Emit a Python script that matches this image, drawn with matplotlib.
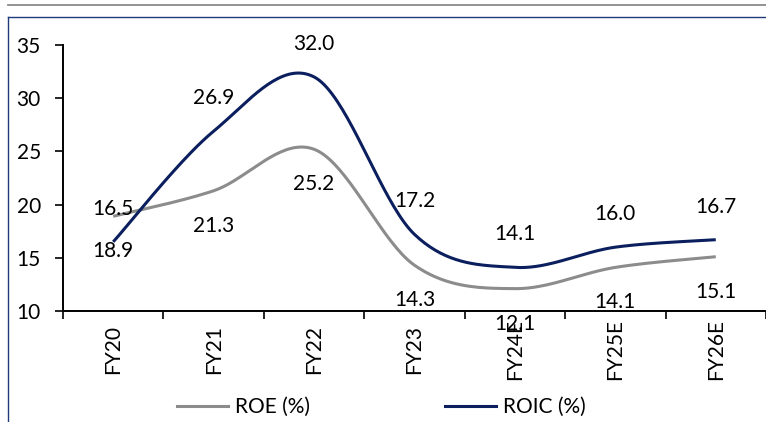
import numpy as np
import matplotlib.pyplot as plt
from matplotlib.lines import Line2D

plt.rcParams['font.family'] = ['Lato', 'DejaVu Sans']

categories = ["FY20", "FY21", "FY22", "FY23", "FY24E", "FY25E", "FY26E"]
roe = [18.9, 21.3, 25.2, 14.3, 12.1, 14.1, 15.1]
roic = [16.5, 26.9, 32.0, 17.2, 14.1, 16.0, 16.7]

ROE_COLOR = "#8c8c8c"
ROIC_COLOR = "#0b1f5e"
FS = 15


def smooth(xs, ys, n=40):
    """Cubic Bezier smoothing through every point (spreadsheet-style smoothed line)."""
    xs = np.asarray(xs, float)
    ys = np.asarray(ys, float)
    px = np.concatenate([[xs[0]], xs, [xs[-1]]])
    py = np.concatenate([[ys[0]], ys, [ys[-1]]])
    out_x, out_y = [], []
    t = np.linspace(0, 1, n)
    for i in range(1, len(px) - 2):
        p0 = np.array([px[i], py[i]])
        p3 = np.array([px[i + 1], py[i + 1]])
        c1 = p0 + (np.array([px[i + 1], py[i + 1]]) - np.array([px[i - 1], py[i - 1]])) / 6
        c2 = p3 - (np.array([px[i + 2], py[i + 2]]) - np.array([px[i], py[i]])) / 6
        b = ((1 - t) ** 3)[:, None] * p0 + (3 * (1 - t) ** 2 * t)[:, None] * c1 \
            + (3 * (1 - t) * t ** 2)[:, None] * c2 + (t ** 3)[:, None] * p3
        out_x.extend(b[:, 0])
        out_y.extend(b[:, 1])
    return np.array(out_x), np.array(out_y)


fig = plt.figure(figsize=(7.66, 4.22), dpi=100)

# outer decoration: grey rule on top and navy frame
fig.add_artist(Line2D([8 / 766, 1.0], [1 - 4.5 / 422] * 2, color="#8a8a8a", lw=1.3,
                      transform=fig.transFigure))
fig.add_artist(Line2D([7.5 / 766, 1.0], [1 - 17 / 422] * 2, color="#1f3a7a", lw=1.0,
                      transform=fig.transFigure))
fig.add_artist(Line2D([7.5 / 766] * 2, [0, 1 - 17 / 422], color="#1f3a7a", lw=1.0,
                      transform=fig.transFigure))

ax = fig.add_axes([63 / 766, 1 - 311 / 422, 703 / 766, (311 - 45) / 422])
x = np.arange(len(categories))

sx, sy = smooth(x, roe)
ax.plot(sx, sy, color=ROE_COLOR, lw=2.2, solid_capstyle="butt")
sx, sy = smooth(x, roic)
ax.plot(sx, sy, color=ROIC_COLOR, lw=2.2, solid_capstyle="butt")

for xi, v in zip(x, roic):
    ax.annotate(f"{v:.1f}", (xi, v), xytext=(0, 33), textcoords="offset pixels",
                ha="center", va="center", fontsize=FS, color="black", clip_on=False)
for xi, v in zip(x, roe):
    ax.annotate(f"{v:.1f}", (xi, v), xytext=(0, -35), textcoords="offset pixels",
                ha="center", va="center", fontsize=FS, color="black", clip_on=False)

ax.set_xlim(-0.5, len(categories) - 0.5)
ax.set_ylim(10, 35)
ax.set_yticks([10, 15, 20, 25, 30, 35])
ax.tick_params(axis="y", direction="out", length=6, width=1.2, labelsize=FS, pad=10)

ax.set_xticks(np.arange(len(categories) + 1) - 0.5)
ax.set_xticklabels([])
ax.set_xticks(x, minor=True)
ax.set_xticklabels(categories, minor=True, rotation=90, fontsize=FS, va="center", ha="center")
ax.tick_params(axis="x", which="major", direction="out", length=6, width=1.2)
ax.tick_params(axis="x", which="minor", length=0, pad=27.4)

for s in ["top", "right"]:
    ax.spines[s].set_visible(False)
for s in ["left", "bottom"]:
    ax.spines[s].set_linewidth(1.4)
    ax.spines[s].set_color("black")

handles = [Line2D([], [], color=ROE_COLOR, lw=2.2), Line2D([], [], color=ROIC_COLOR, lw=2.2)]
fig.legend(handles, ["ROE (%)", "ROIC (%)"], loc="center left",
           bbox_to_anchor=(158 / 766, 1 - 407 / 422),
           ncol=2, frameon=False, fontsize=FS, handlelength=2.45, handletextpad=0.34,
           columnspacing=6.5)

fig.savefig("out.png", dpi=100)
